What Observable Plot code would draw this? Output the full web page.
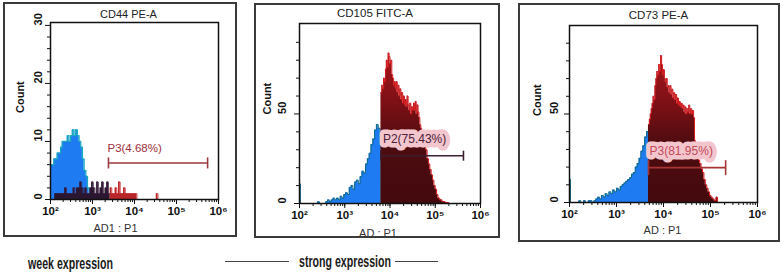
<!DOCTYPE html>
<html><head><meta charset="utf-8">
<script src="https://cdn.jsdelivr.net/npm/d3@7"></script>
<script src="https://cdn.jsdelivr.net/npm/@observablehq/plot@0.6"></script>
<style>
body{margin:0;background:#fff;}
#wrap{position:relative;width:784px;height:274px;overflow:hidden;font-family:"Liberation Sans",Arial,sans-serif;}
.panel{position:absolute;}
.box{position:absolute;box-sizing:border-box;border:2px solid #3a3a3a;pointer-events:none;}
.cap{position:absolute;font-family:"Liberation Sans",Arial,sans-serif;font-weight:bold;font-size:16.5px;color:#1a1a1a;white-space:nowrap;line-height:1;transform-origin:0 50%;}
.dash{position:absolute;height:1px;background:#444;}
</style></head>
<body><div id="wrap"></div>
<script>
// ---------- data (exponent of fluorescence, cell count) ----------
const decades = [1e2, 1e3, 1e4, 1e5, 1e6];
const decadeLabels = ["10²", "10³", "10⁴", "10⁵", "10⁶"];

const panelTitles = ["CD44 PE-A", "CD105 FITC-A", "CD73 PE-A"];
const panelXLabels = ["AD1 : P1", "AD : P1", "AD : P1"];
const gateLabels = ["P3(4.68%)", "P2(75.43%)", "P3(81.95%)"];
const gateFrom = [2400, 6300, 4800];
const gateTo = [550000, 420000, 210000];
const gateLevel = [6.3, 26.7, 19.7];
const labelLevel = [8.8, 36, 29.2];

const yMajor1 = [0, 10, 20, 30];
const yMinor1 = [2, 4, 6, 8, 12, 14, 16, 18, 22, 24, 26, 28];
const yMajor23 = [0, 50];
const yMinor23 = [10, 20, 30, 40, 60, 70, 80, 90];

// CD44 (weak)
const cd44Neg = [[2.00,6],[2.04,6],[2.08,7],[2.12,7],[2.16,8],[2.20,8],[2.24,9],[2.28,10],[2.32,10],[2.36,10],[2.40,11],[2.44,10],[2.48,11],[2.52,12],[2.56,11],[2.60,12],[2.64,11],[2.68,10],[2.72,9],[2.76,7],[2.80,5],[2.84,4],[2.88,2],[2.92,1],[2.96,0]];
const cd44Dim = [[2.10,1],[2.14,1],[2.18,1],[2.22,1],[2.26,1],[2.30,1],[2.34,2],[2.38,1],[2.42,1],[2.46,1],[2.50,1],[2.54,2],[2.58,1],[2.62,2],[2.66,2],[2.70,3],[2.74,2],[2.78,1],[2.82,2],[2.86,1],[2.90,1],[2.94,2],[2.98,3],[3.02,2],[3.06,1],[3.10,3],[3.14,1],[3.18,2],[3.22,3],[3.26,1],[3.30,2],[3.34,3],[3.38,1],[3.42,0]];
const cd44Pos = [[3.42,2],[3.46,1],[3.50,1],[3.54,2],[3.58,1],[3.62,3],[3.66,1],[3.70,1],[3.74,2],[3.78,1],[3.82,1],[3.86,1],[3.90,1],[3.94,1],[3.98,1],[4.02,1],[4.06,0],[4.52,1],[4.56,0]];

// CD105 (strong)
const cd105Neg = [[2.00,11],[2.02,0],[2.40,1],[2.44,0],[2.58,1],[2.62,2],[2.66,1],[2.70,2],[2.74,3],[2.78,2],[2.82,3],[2.86,2],[2.90,4],[2.94,3],[2.98,5],[3.02,6],[3.06,5],[3.10,9],[3.14,10],[3.18,8],[3.22,12],[3.26,13],[3.30,11],[3.34,15],[3.38,18],[3.42,17],[3.46,22],[3.50,25],[3.54,28],[3.58,33],[3.62,36],[3.66,41],[3.70,44],[3.74,42],[3.78,40],[3.80,0]];
const cd105Pos = [[3.80,62],[3.82,66],[3.84,64],[3.86,70],[3.88,68],[3.90,75],[3.92,80],[3.94,76],[3.96,84],[3.98,82],[4.00,78],[4.02,80],[4.04,72],[4.06,70],[4.08,66],[4.10,68],[4.12,64],[4.14,68],[4.16,62],[4.18,66],[4.20,60],[4.22,64],[4.24,58],[4.26,62],[4.28,56],[4.30,60],[4.32,55],[4.34,58],[4.36,54],[4.38,60],[4.40,55],[4.42,52],[4.44,56],[4.46,50],[4.48,54],[4.50,52],[4.52,56],[4.54,52],[4.56,57],[4.58,50],[4.60,55],[4.62,51],[4.64,48],[4.66,44],[4.68,42],[4.70,40],[4.73,36],[4.76,34],[4.79,30],[4.82,25],[4.85,22],[4.88,19],[4.91,16],[4.94,13],[4.97,10],[5.00,8],[5.03,5],[5.06,3],[5.10,2],[5.15,1],[5.22,0.5],[5.30,0]];

// CD73 (strong)
const cd73Neg = [[2.00,13],[2.02,0],[2.20,1],[2.24,0],[2.30,1],[2.34,0],[2.40,1],[2.44,1],[2.48,0],[2.52,1],[2.56,2],[2.60,3],[2.64,2],[2.68,4],[2.72,3],[2.76,5],[2.80,4],[2.84,6],[2.88,5],[2.92,7],[2.96,6],[3.00,8],[3.04,7],[3.08,9],[3.12,10],[3.16,11],[3.20,12],[3.24,13],[3.28,14],[3.32,16],[3.36,17],[3.40,20],[3.44,22],[3.48,25],[3.52,29],[3.56,32],[3.60,37],[3.64,40],[3.68,0]];
const cd73Pos = [[3.68,44],[3.70,47],[3.72,50],[3.74,53],[3.76,56],[3.78,60],[3.80,58],[3.82,66],[3.84,70],[3.86,74],[3.88,72],[3.90,78],[3.92,74],[3.94,83],[3.96,78],[3.98,72],[4.00,75],[4.02,70],[4.04,68],[4.06,70],[4.08,65],[4.10,66],[4.12,62],[4.14,66],[4.16,61],[4.18,64],[4.20,59],[4.22,62],[4.24,58],[4.26,61],[4.28,56],[4.30,59],[4.32,55],[4.34,57],[4.36,54],[4.38,56],[4.40,53],[4.42,55],[4.44,51],[4.46,54],[4.48,50],[4.50,53],[4.52,51],[4.54,55],[4.56,50],[4.58,53],[4.60,50],[4.62,52],[4.64,48],[4.66,35],[4.68,30],[4.71,28],[4.74,24],[4.77,22],[4.80,19],[4.83,17],[4.86,13],[4.89,10],[4.92,8],[4.95,6],[4.98,4],[5.01,3],[5.04,2],[5.08,1],[5.12,3],[5.15,0],[5.20,0]];

// ---------- drawing ----------
const FONT = "'Liberation Sans', Arial, sans-serif";
const BLUE = "#1f7bf2";
const RED = "#d21a1e";
const vbar = {draw(ctx, size) { const h = Math.sqrt(size / Math.PI); ctx.moveTo(0, -h); ctx.lineTo(0, h); }};
const X = d => 10 ** d[0], Y = d => d[1];

const panels = [
  {box: [3, 2, 234, 235], m: [20, 19, 38, 47], ydom: [0, 30.5], yMajor: yMajor1, yMinor: yMinor1,
   series: [
     {data: cd44Neg, fill: BLUE, stroke: "#19a8c0", sw: 1.3},
     {data: cd44Dim, fill: "#2a1630", stroke: "#3a1a3c", sw: 0.8},
     {data: cd44Pos, fill: "#b8262a", stroke: "#c8282c", sw: 0.8}],
   titleD: [-6, -8], xlabD: [-19, 29], ylabDx: -12, countDx: -30, countDy: 2,
   gateColor: "#9a3a40", labelColor: "#a03040", halo: null, capR: 5.5, labelDx: -1, labelSize: 11.5},
  {box: [254, 3, 246, 235], m: [20, 20, 35, 45], ydom: [0, 100.5], yMajor: yMajor23, yMinor: yMinor23,
   series: [
     {data: cd105Neg, fill: BLUE, stroke: "#0e6a86", sw: 1},
     {data: cd105Pos, fill: "url(#redgrad1)", stroke: RED, sw: 1}],
   titleD: [-15, -10], xlabD: [-12, 30], ylabDx: -17, countDx: -32, countDy: 1,
   gateColor: "#3a1e2e", labelColor: "#4a2038", halo: "#f3c6ce", capR: 5, labelDx: 2, labelSize: 12},
  {box: [518, 3, 262, 239], m: [22, 23, 40, 51], ydom: [0, 100], yMajor: yMajor23, yMinor: yMinor23,
   series: [
     {data: cd73Neg, fill: BLUE, stroke: "#0e6a86", sw: 1},
     {data: cd73Pos, fill: "url(#redgrad2)", stroke: RED, sw: 1}],
   titleD: [-5, -10], xlabD: [-1, 28], ylabDx: -15, countDx: -32, countDy: 2,
   gateColor: "#a83434", labelColor: "#c44a5a", halo: "#f3c6ce", capR: 7.5, labelDx: 1, labelSize: 12}
];

const wrap = document.getElementById("wrap");
panels.forEach((p, i) => {
  const [left, top, w, h] = p.box;
  const marks = [];
  for (const s of p.series) {
    marks.push(Plot.areaY(s.data, {x: X, y: Y, curve: "step-after", fill: s.fill}));
    marks.push(Plot.lineY(s.data, {x: X, y: Y, curve: "step-after", stroke: s.stroke, strokeWidth: s.sw}));
  }
  const gate = [{x1: gateFrom[i], x2: gateTo[i], y: gateLevel[i]}];
  marks.push(
    Plot.ruleY(gate, {x1: "x1", x2: "x2", y: "y", stroke: p.gateColor, strokeWidth: 1.6}),
    Plot.dot([gateFrom[i], gateTo[i]], {x: d => d, y: () => gateLevel[i], symbol: vbar, r: p.capR, stroke: p.gateColor, strokeWidth: 1.6}),
    Plot.text([gateLabels[i]], {x: () => gateFrom[i], y: () => labelLevel[i], textAnchor: "start", dx: p.labelDx,
      fill: p.labelColor, fontSize: p.labelSize, stroke: p.halo || undefined, strokeWidth: p.halo ? 9 : undefined, strokeLinejoin: "round"}),
    Plot.axisX({ticks: 20, tickSize: 3, tickFormat: () => "", stroke: "#111"}),
    Plot.axisX({ticks: decades, tickSize: 5, tickPadding: 2, tickFormat: d => decadeLabels[decades.indexOf(d)],
      fontSize: 11.5, fontWeight: "bold", fill: "#111", stroke: "#111"}),
    Plot.axisY({ticks: p.yMinor, tickSize: 3, tickFormat: () => "", stroke: "#111"}),
    Plot.axisY({ticks: p.yMajor, tickSize: 5, tickFormat: () => "", stroke: "#111"}),
    Plot.text(p.yMajor, {y: d => d, text: d => String(d), frameAnchor: "left", rotate: -90, dx: p.ylabDx,
      fontSize: 11, fontWeight: "bold", fill: "#111"}),
    Plot.text(["Count"], {frameAnchor: "left", lineAnchor: "middle", rotate: -90, dx: p.countDx, dy: p.countDy, fontSize: 11, fontWeight: "bold", fill: "#111"}),
    Plot.text([panelTitles[i]], {frameAnchor: "top", lineAnchor: "middle", dx: p.titleD[0], dy: p.titleD[1], fontSize: i === 0 ? 11 : 11.5, fill: "#222"}),
    Plot.text([panelXLabels[i]], {frameAnchor: "bottom", lineAnchor: "middle", dx: p.xlabD[0], dy: p.xlabD[1], fontSize: 11, fill: "#333"}),
    Plot.frame({stroke: "#111", strokeWidth: 1.5})
  );
  const svg = Plot.plot({
    width: w, height: h,
    marginTop: p.m[0], marginRight: p.m[1], marginBottom: p.m[2], marginLeft: p.m[3],
    x: {type: "log", domain: [1e2, 1e6], label: null},
    y: {domain: p.ydom, label: null},
    style: {background: "transparent", fontFamily: FONT, color: "#111", overflow: "visible"},
    marks
  });
  // red-to-maroon gradient used by the positive population fill
  const defs = d3.select(svg).insert("defs", ":first-child");
  const g = defs.append("linearGradient").attr("id", "redgrad" + i).attr("x1", 0).attr("y1", 0).attr("x2", 0).attr("y2", 1);
  g.append("stop").attr("offset", "0").attr("stop-color", "#a8151a");
  g.append("stop").attr("offset", "0.35").attr("stop-color", "#7a1015");
  g.append("stop").attr("offset", "0.6").attr("stop-color", "#4e0c10");
  g.append("stop").attr("offset", "1").attr("stop-color", "#440a0e");
  const div = document.createElement("div");
  div.className = "panel";
  div.style.left = left + "px"; div.style.top = top + "px";
  div.appendChild(svg);
  wrap.appendChild(div);
  const box = document.createElement("div");
  box.className = "box";
  Object.assign(box.style, {left: left + "px", top: top + "px", width: w + "px", height: h + "px"});
  wrap.appendChild(box);
});

// captions under the chart
const captions = [
  {text: "week expression", left: 28, top: 255, width: 85},
  {text: "strong expression", left: 299, top: 253, width: 92}
];
captions.forEach(c => {
  const d = document.createElement("div");
  d.className = "cap"; d.textContent = c.text;
  d.style.left = c.left + "px"; d.style.top = c.top + "px";
  wrap.appendChild(d);
  const actual = d.getBoundingClientRect().width;
  d.style.transform = `scaleX(${c.width / actual})`;
});
[[225, 64], [395, 43]].forEach(([l, w]) => {
  const d = document.createElement("div");
  d.className = "dash";
  Object.assign(d.style, {left: l + "px", width: w + "px", top: "261px"});
  wrap.appendChild(d);
});
</script></body></html>
